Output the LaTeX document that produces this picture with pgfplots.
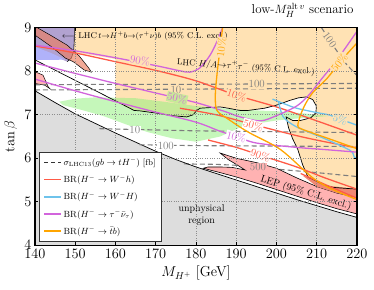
\documentclass[border=0pt]{standalone}
\usepackage{pgfplots}
\pgfplotsset{compat=1.18}
\definecolor{greyreg}{RGB}{221,221,221}
\definecolor{orangereg}{RGB}{255,226,180}
\definecolor{greenreg}{RGB}{150,240,130}
\definecolor{purplereg}{RGB}{178,162,208}
\definecolor{lavreg}{RGB}{176,178,250}
\definecolor{streak}{RGB}{235,125,95}
\definecolor{leppink}{RGB}{255,178,178}
\definecolor{darksal}{RGB}{240,135,115}
\definecolor{cred}{RGB}{255,90,70}
\definecolor{cblue}{RGB}{110,195,235}
\definecolor{cmag}{RGB}{210,100,220}
\definecolor{corange}{RGB}{255,165,0}
\definecolor{cgrey}{RGB}{125,125,125}
\definecolor{greenorange}{RGB}{200,234,152}
\tikzset{cl/.style={font=\fontsize{11}{11}\selectfont, inner sep=0.6pt}}
\begin{document}
\begin{tikzpicture}
\begin{axis}[
  scale only axis, width=322bp, height=217.5bp,
  at={(0,0)}, anchor=south west,
  xmin=140, xmax=220, ymin=4, ymax=9,
  xtick={140,150,...,220}, ytick={4,5,6,7,8,9},
  grid=major, grid style={dotted, line width=0.7pt, black!45},
  axis on top,
  axis line style={line width=1.1pt},
  major tick length=3.5bp, tick style={line width=0.7pt, black},
  tick label style={font=\fontsize{15}{15}\selectfont},
  xlabel={$M_{H^+}$ [GeV]}, ylabel={$\tan\beta$},
  label style={font=\fontsize{14.5}{15}\selectfont},
  x label style={at={(axis description cs:0.5,-0.129)}, anchor=center},
  y label style={at={(axis description cs:-0.075,0.5)}, anchor=center},
  title={low-$M_H^{\mathrm{alt}\,v}$ scenario},
  title style={at={(axis description cs:1,1)}, anchor=south east, font=\fontsize{13}{14}\selectfont, yshift=1bp},
  no markers,
  legend style={at={(axis description cs:0.0124,0.017)}, anchor=south west, draw=black!80, line width=0.9pt, fill=white, font=\fontsize{8.7}{10}\selectfont, inner xsep=4pt, inner ysep=3.5pt, row sep=4bp},
  legend cell align=left,
]
\addlegendimage{black!80, line width=1.1pt, dash pattern=on 4bp off 3bp}
\addlegendentry{$\sigma_{\mathrm{LHC13}}(gb\rightarrow tH^-)$ [fb]}
\addlegendimage{cred, line width=1.3pt}
\addlegendentry{$\mathrm{BR}(H^-\rightarrow W^-h)$}
\addlegendimage{cblue, line width=1.3pt}
\addlegendentry{$\mathrm{BR}(H^-\rightarrow W^-H)$}
\addlegendimage{cmag, line width=1.3pt}
\addlegendentry{$\mathrm{BR}(H^-\rightarrow\tau^-\bar\nu_\tau)$}
\addlegendimage{corange, line width=1.3pt}
\addlegendentry{$\mathrm{BR}(H^-\rightarrow\bar t b)$}

% unphysical region
\addplot[forget plot, draw=none, fill=greyreg] coordinates {(140,4) (140,7.55) (145,7.28) (150,7.02) (155,6.8) (160,6.58) (165,6.37) (170,6.16) (175,5.97) (180,5.8) (185,5.65) (190,5.5) (195,5.35) (200,5.2) (205,5.05) (210,4.91) (215,4.77) (220,4.64) (220,4)} -- cycle;
% orange LHC H/A region
\addplot[forget plot, draw=none, fill=orangereg] coordinates {(149.8,9) (220,9) (220,5.29) (214,5.33) (212,5.38) (207.8,5.57) (206.5,5.85) (205.3,6.2) (204,6.45) (203,6.7) (202.4,6.95) (204,6.87) (206,6.87) (208.5,6.93) (209.8,7.05) (209.9,7.2) (209,7.35) (207.4,7.41) (205.5,7.39) (203.3,7.33) (200,7.22) (197,7.15) (193,7.1) (190.9,7.1) (188,7.15) (186,7.18) (181,7.15) (180.2,7.1) (179.3,7.0) (177.7,6.95) (174,6.98) (170,7.04) (166,7.09) (164.6,7.1) (160,7.3) (160,8.28) (155,8.36) (150.5,8.42) (149.7,8.45)} -- cycle;
% green region
\addplot[forget plot, draw=none, fill=greenreg, fill opacity=0.55] coordinates {(146,7.3) (150,7.37) (155,7.4) (165,7.38) (172,7.3) (180,7.2) (190,7.12) (200,7.08) (207,7.03) (213,6.97) (207,6.93) (200,6.87) (192,6.75) (186,6.5) (180,6.38) (174,6.46) (168,6.6) (162,6.8) (157,6.97) (152,7.1) (147,7.22)} -- cycle;
% purple LHC t->H+b region
\addplot[forget plot, draw=none, fill=purplereg] coordinates {(140,9) (149.8,9) (149.75,8.7) (149.6,8.45) (149,8.3) (148,8.22) (146,8.3) (143,8.42) (140,8.56)} -- cycle;
\addplot[forget plot, draw=none, fill=lavreg] coordinates {(140,8.56) (144,8.42) (147.5,8.27) (144.7,8.26) (140,8.26)} -- cycle;
\addplot[forget plot, black, line width=0.6pt] coordinates {(149.8,9) (149.75,8.7) (149.6,8.45) (149,8.3) (148,8.22)};
% pink streak
\addplot[forget plot, draw=black, line width=0.5pt, fill=streak, fill opacity=0.65] coordinates {(140.6,9) (144,8.82) (148,8.6) (151,8.35) (153.4,8.07) (154,7.98) (152.2,8.03) (150.5,8.15) (149.5,8.22) (147.6,8.3) (144,8.57) (140,8.83) (140,9)} -- cycle;
% small pink blob
\addplot[forget plot, draw=black, line width=0.5pt, fill=leppink] coordinates {(140,7.99) (142,7.91) (143.3,7.64) (143.7,7.6) (142.4,7.68) (140,7.72)} -- cycle;
% sigma = 500 contour (partly under LEP)
\addplot[forget plot, cgrey, line width=1.1pt, dash pattern=on 5bp off 3bp] coordinates {(177,5.87) (185,5.86) (192,5.83) (200,5.75) (210,5.67) (220,5.58)};
% LEP region
\addplot[forget plot, draw=black, line width=0.6pt, fill=leppink] coordinates {(186,6.12) (190,6.0) (195,5.9) (200,5.77) (205,5.55) (210,5.35) (215,5.2) (220,5.1) (220,4.72) (215,4.84) (210,4.98) (205,5.13) (200,5.28) (195,5.43) (190,5.57) (186,5.67) (181.8,5.77) (183,5.8) (186,5.8) (189,5.79) (192.2,5.73) (190,5.86) (188,5.97)} -- cycle;
\addplot[forget plot, draw=none, fill=darksal] coordinates {(206.5,5.6) (207.8,5.57) (212,5.38) (220,5.29) (220,5.1) (215,5.2) (210,5.35)} -- cycle;
% boundaries
\addplot[forget plot, black, line width=0.7pt] coordinates {(140,7.55) (145,7.28) (150,7.02) (155,6.8) (160,6.58) (165,6.37) (170,6.16) (175,5.97) (180,5.8) (185,5.65) (190,5.5) (195,5.35) (200,5.2) (205,5.05) (210,4.91) (215,4.77) (220,4.64)};
\addplot[forget plot, black, line width=0.7pt] coordinates {(140,8.26) (150,7.79) (160,7.32) (164.6,7.1) (166,7.09) (170,7.04) (174,6.98) (177.7,6.95) (179.3,7.0) (180.2,7.1) (181,7.15) (186,7.18) (188,7.15) (190.9,7.1) (193,7.1) (197,7.15) (200,7.22) (203.3,7.33) (205.5,7.39) (207.4,7.41) (209,7.35) (209.9,7.2) (209.8,7.05) (208.5,6.93) (206,6.87) (204,6.87) (202.4,6.95) (203,6.7) (204,6.45) (205.3,6.2) (206.5,5.85) (207.8,5.57) (212,5.38) (214,5.33) (220,5.29)};
% sigma contours
\addplot[forget plot, cgrey, line width=1.1pt, dash pattern=on 5bp off 3bp] coordinates {(140,7.69) (160,7.7) (180,7.7) (200,7.71) (220,7.72)};
\addplot[forget plot, cgrey, line width=1.1pt, dash pattern=on 5bp off 3bp] coordinates {(140,7.57) (160,7.58) (180,7.59) (200,7.6) (220,7.61)};
\addplot[forget plot, cgrey, line width=1.1pt, dash pattern=on 5bp off 3bp] coordinates {(156,6.68) (180,6.63) (200,6.61) (220,6.59)};
\addplot[forget plot, cgrey, line width=1.1pt, dash pattern=on 5bp off 3bp] coordinates {(166,6.31) (180,6.29) (200,6.28) (220,6.27)};
\addplot[forget plot, cgrey, line width=1.1pt, dash pattern=on 5bp off 3bp] coordinates {(211.2,9.0) (214,8.6) (217,8.2) (220,7.9)};
% BR(H -> W h), red
\addplot[forget plot, cred, line width=1.3pt, smooth] coordinates {(140,8.58) (150,8.42) (160,8.22) (170,8.02) (180,7.78) (190,7.45) (200,7.18) (210,6.86) (220,6.53)};
\addplot[forget plot, cred, line width=1.3pt, smooth] coordinates {(176,7.15) (185,7.0) (194,6.78) (205,6.52) (212,6.38) (220,6.24)};
\addplot[forget plot, cred, line width=1.3pt, smooth] coordinates {(183,6.42) (190,6.25) (196,6.07) (205,5.8) (212,5.55) (220,5.29)};
\addplot[forget plot, cred, line width=1.3pt, smooth] coordinates {(206,5.65) (212,5.4) (220,5.08)};
% BR(H -> W H), blue
\addplot[forget plot, cblue, line width=1.3pt, smooth] coordinates {(199,7.36) (202,7.25) (205,7.15) (210,7.05) (213.3,6.99) (217,6.86) (220,6.76)};
\addplot[forget plot, cblue, line width=1.3pt, smooth] coordinates {(200.5,7.3) (201.7,6.95) (205,6.72) (212,6.45) (218.3,6.18) (219.3,6.03) (220,6.0)};
% BR(H -> tau nu), magenta
\addplot[forget plot, cmag, line width=1.3pt, smooth] coordinates {(140,8.6) (150,8.47) (160,8.31) (170,8.13) (176,8.01) (178.5,7.98) (181,8.08) (183.5,8.37) (185.3,8.7) (186.6,9.0)};
\addplot[forget plot, cmag, line width=1.3pt, smooth] coordinates {(140,8.19) (150,7.95) (160,7.72) (170,7.5) (180,7.28) (187,7.08) (191,6.95) (196,6.86) (200,6.98) (205,7.2) (208,7.45) (211,7.8) (215,8.26) (220,8.92)};
\addplot[forget plot, cmag, line width=1.3pt, smooth] coordinates {(140,7.82) (150,7.55) (160,7.3) (170,7.06) (180,6.83) (186,6.62) (190,6.5) (195,6.35) (205,6.25) (212,6.2) (220,6.14)};
% BR(H -> t b), orange
\addplot[forget plot, corange, line width=1.3pt, smooth] coordinates {(186.6,9.0) (186.1,8.6) (185.3,8.0) (184.8,7.45) (185.2,7.1) (188,6.9) (193,6.6) (201,6.2) (209,5.55) (214,5.28) (220,5.05)};
\addplot[forget plot, corange, line width=1.3pt, smooth] coordinates {(220,8.65) (216.5,8.29) (212.5,7.83) (209.1,7.52) (207.2,7.25) (206,7.0) (205.3,6.75) (206.3,6.67) (213,6.45) (220,6.22)};

% region labels
\node[anchor=west, font=\fontsize{8.4}{10}\selectfont, inner sep=0pt] at (axis cs:146.6,8.81) {$\longleftarrow$ LHC$\,t{\rightarrow}H^+b{\rightarrow}(\tau^+\nu)b$ (95\% C.L. excl.)};
\node[rotate=-4, font=\fontsize{8.6}{11}\selectfont, inner sep=0pt] at (axis cs:192.4,8.1) {LHC $H/A{\rightarrow}\tau^+\tau^-$ (95\% C.L. excl.)};
\node[rotate=-17, font=\fontsize{10}{11}\selectfont, inner sep=0pt] at (axis cs:207.3,5.2) {LEP (95\% C.L. excl.)};
\node[align=center, font=\fontsize{10}{12.5}\selectfont, inner sep=0pt] at (axis cs:181.4,4.69) {unphysical\\region};
% contour labels
\node[cl, text=cgrey, fill=orangereg] at (axis cs:195.1,7.7) {100};
\node[cl, text=cgrey, fill=orangereg] at (axis cs:175,7.58) {10};
\node[cl, text=cgrey, fill=white] at (axis cs:164.8,6.65) {10};
\node[cl, text=cgrey, fill=white] at (axis cs:172.5,6.29) {100};
\node[cl, text=cgrey, fill=leppink] at (axis cs:195.4,5.8) {500};
\node[cl, text=cgrey, fill=orangereg, rotate=-54] at (axis cs:213.2,8.72) {100};
\node[cl, text=cmag, fill=orangereg, rotate=-10] at (axis cs:166.1,8.24) {90\%};
\node[cl, text=cmag, fill=greenorange, rotate=-13] at (axis cs:175.3,7.38) {50\%};
\node[cl, text=cmag, fill=white, rotate=-14] at (axis cs:190,6.49) {10\%};
\node[cl, text=cred, fill=orangereg, rotate=-18] at (axis cs:190.1,7.45) {10\%};
\node[cl, text=cred, fill=white, rotate=-15] at (axis cs:194.2,6.76) {50\%};
\node[cl, text=cred, fill=white, rotate=-18] at (axis cs:196,6.07) {90\%};
\node[cl, text=cblue, fill=orangereg, rotate=-20] at (axis cs:215.8,6.9) {5\%};
\node[cl, text=corange, fill=orangereg, rotate=83] at (axis cs:186.3,8.55) {10\%};
\node[cl, text=corange, fill=orangereg, rotate=52] at (axis cs:215.6,8.2) {50\%};
\end{axis}
\path (-35bp,-44bp) rectangle (339bp,238bp);
\end{tikzpicture}
\end{document}
